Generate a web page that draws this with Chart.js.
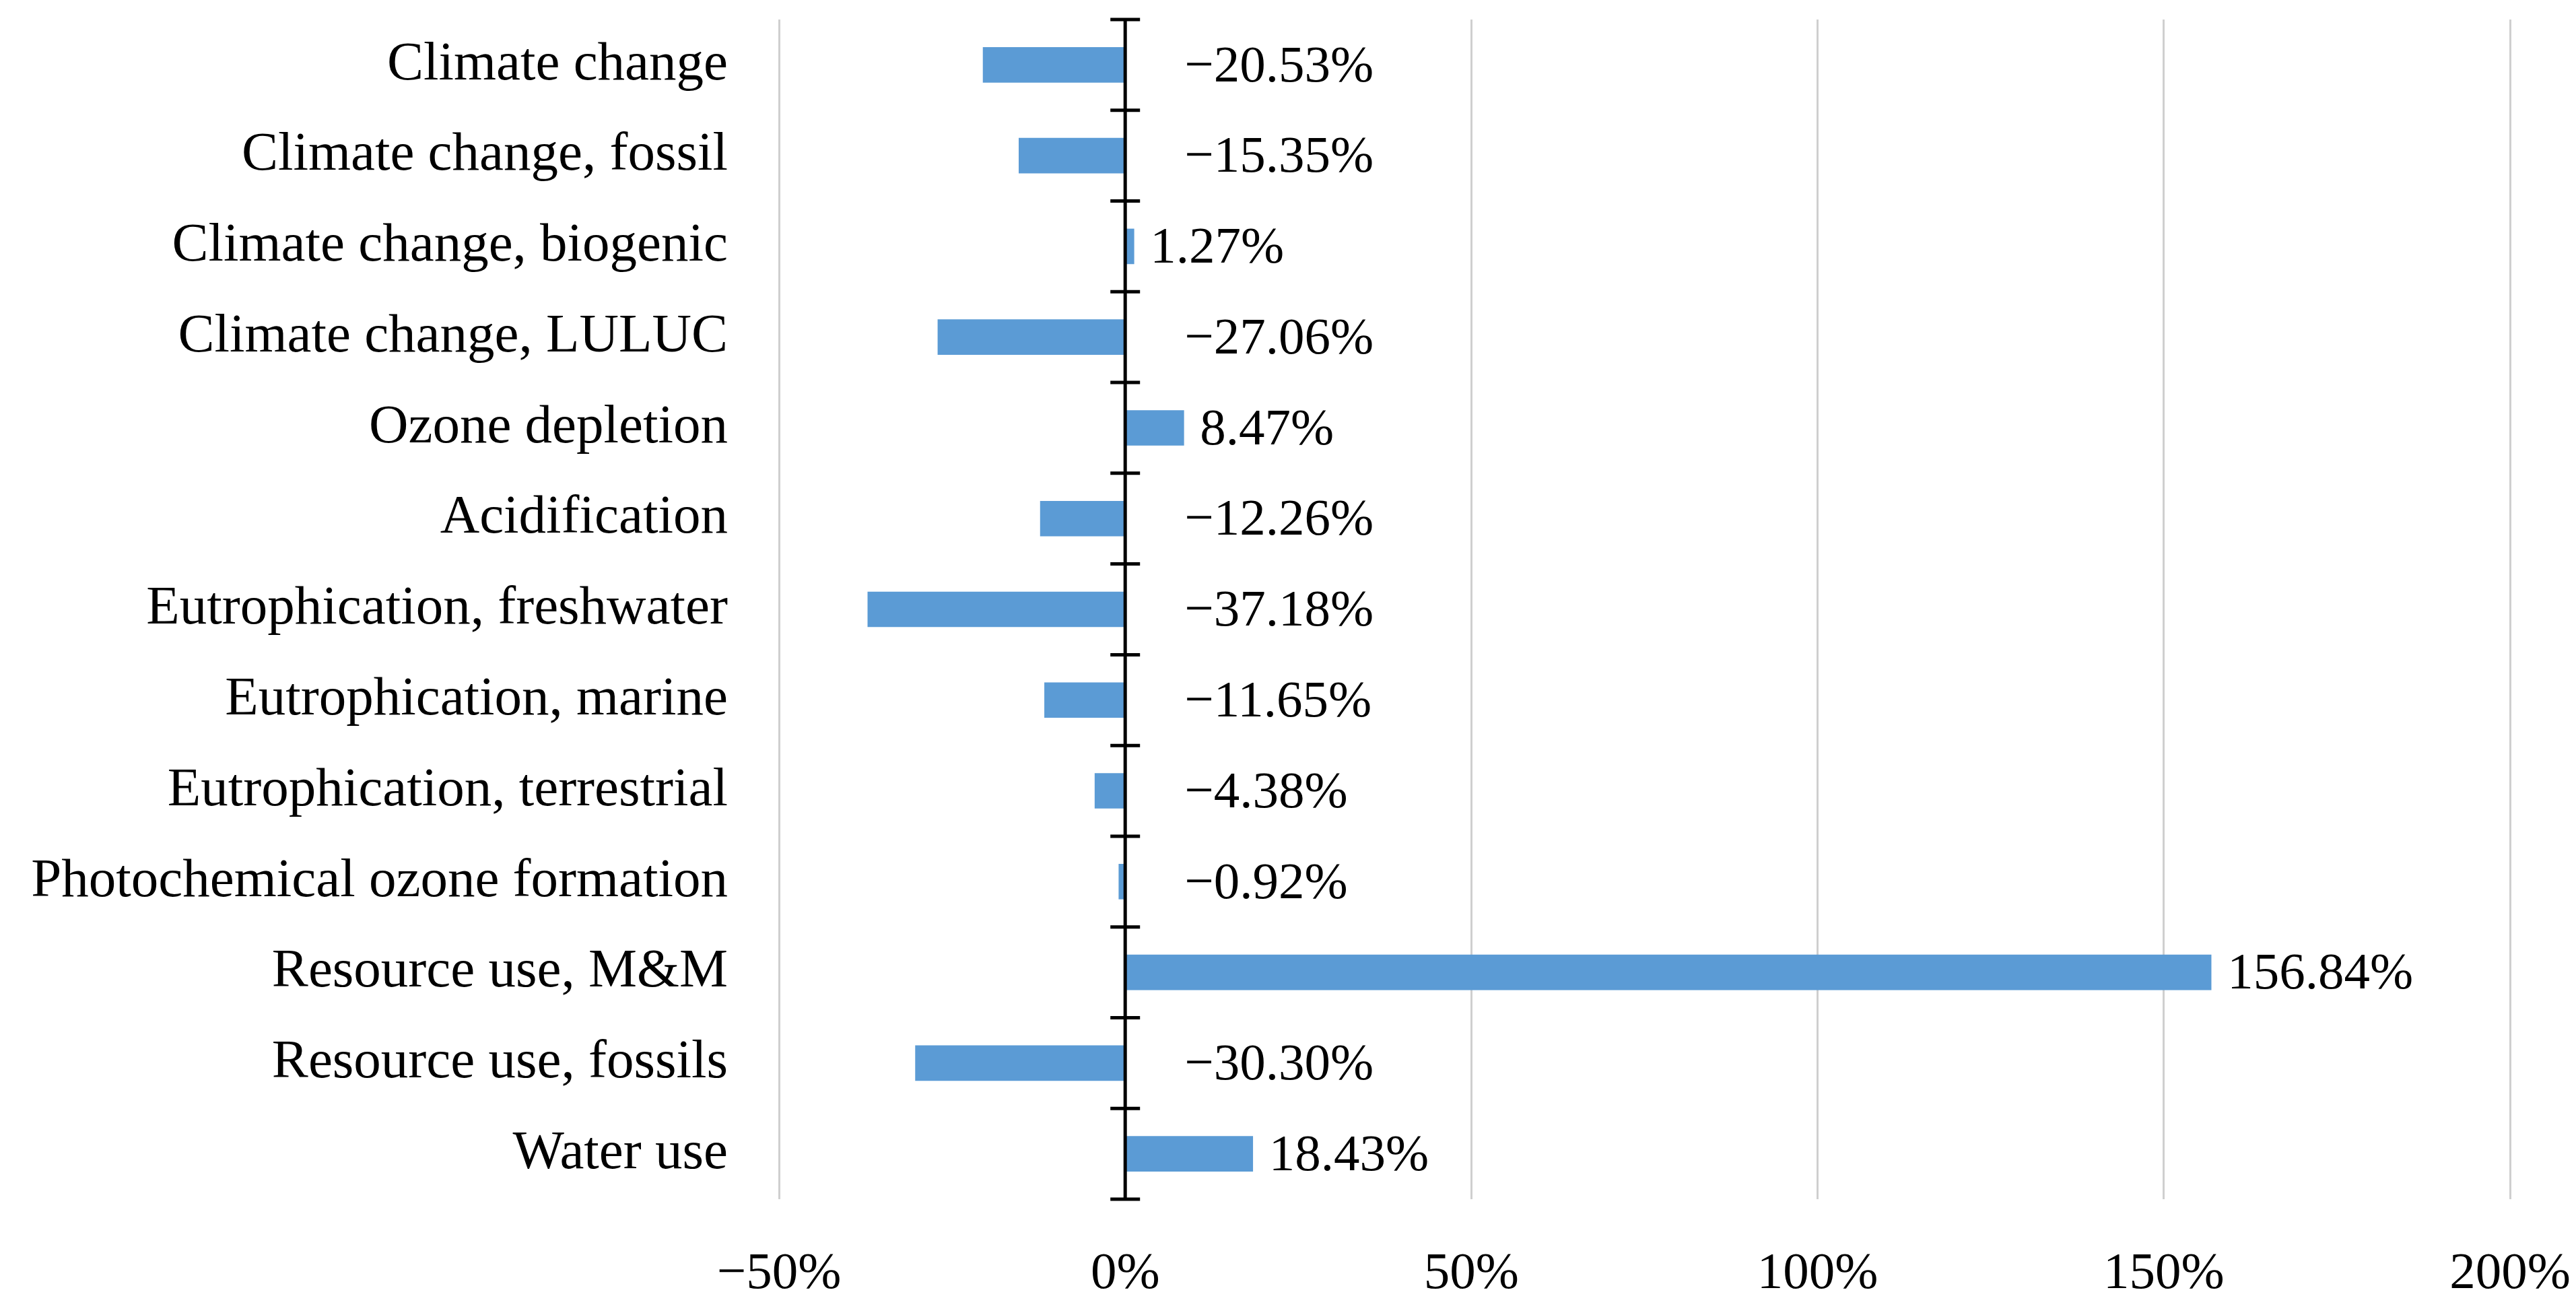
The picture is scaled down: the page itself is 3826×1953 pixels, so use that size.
<!DOCTYPE html>
<html>
<head>
<meta charset="utf-8">
<script src="https://cdn.jsdelivr.net/npm/chart.js@4"></script>
<style>
  body { margin: 0; background: #fff; }
  #wrap { width: 3826px; height: 1953px; }
</style>
</head>
<body>
<div id="wrap"><canvas id="myChart" width="3826" height="1953"></canvas></div>
<script>
const categorias = ["Climate change", "Climate change, fossil", "Climate change, biogenic",
  "Climate change, LULUC", "Ozone depletion", "Acidification", "Eutrophication, freshwater",
  "Eutrophication, marine", "Eutrophication, terrestrial", "Photochemical ozone formation",
  "Resource use, M&M", "Resource use, fossils", "Water use"];
const valores = [-20.53, -15.35, 1.27, -27.06, 8.47, -12.26, -37.18, -11.65, -4.38, -0.92, 156.84, -30.30, 18.43];
const ticksX = [-50, 0, 50, 100, 150, 200];

const fuente = "'Liberation Serif', serif";
const tam = 77;

function pct(v, dec) {
  var s = Math.abs(v).toFixed(dec) + "%";
  return v < 0 ? "\u2212" + s : s;
}

// eje vertical negro en 0 con marcas entre categorias
const ejeCero = {
  id: 'ejeCero',
  afterDatasetsDraw(chart) {
    const c = chart.ctx;
    const x = chart.scales.x.getPixelForValue(0);
    const y = chart.scales.y;
    const paso = (y.bottom - y.top) / categorias.length;
    c.save();
    c.strokeStyle = "#000";
    c.lineWidth = 5;
    c.beginPath();
    c.moveTo(x, y.top);
    c.lineTo(x, y.bottom);
    for (var i = 0; i <= categorias.length; i++) {
      var yy = y.top + i * paso;
      c.moveTo(x - 22, yy);
      c.lineTo(x + 22, yy);
    }
    c.stroke();
    c.restore();
  }
};

// etiquetas de datos
const etiquetas = {
  id: 'etiquetas',
  afterDatasetsDraw(chart) {
    const c = chart.ctx;
    const x0 = chart.scales.x.getPixelForValue(0);
    const meta = chart.getDatasetMeta(0);
    c.save();
    c.font = tam + "px " + fuente;
    c.fillStyle = "#000";
    c.textAlign = "left";
    c.textBaseline = "middle";
    meta.data.forEach(function (bar, i) {
      var v = valores[i];
      var x = v < 0 ? x0 + 88 : bar.x + 24;
      c.fillText(pct(v, 2), x, bar.y + 4);
    });
    c.restore();
  }
};

const ctx = document.getElementById("myChart").getContext("2d");
const myChart = new Chart(ctx, {
  type: "bar",
  data: {
    labels: categorias,
    datasets: [{
      data: valores,
      backgroundColor: "#5B9BD5",
      barThickness: 52,
      borderWidth: 0
    }]
  },
  options: {
    indexAxis: "y",
    responsive: false,
    animation: false,
    devicePixelRatio: 1,
    layout: { padding: { top: 29, right: 98, bottom: 0, left: 0 } },
    plugins: { legend: { display: false }, tooltip: { enabled: false } },
    scales: {
      x: {
        min: -50,
        max: 200,
        afterBuildTicks: function (s) { s.ticks = ticksX.map(function (v) { return { value: v }; }); },
        afterFit: function (s) { s.height = 172; s.paddingLeft = 0; s.paddingRight = 0; },
        border: { display: false },
        grid: {
          color: function (g) { return g.tick && g.tick.value === 0 ? "rgba(0,0,0,0)" : "#cfcfcf"; },
          lineWidth: 3,
          borderDash: [10, 4],
          drawTicks: false
        },
        ticks: {
          padding: 66,
          color: "#000",
          font: { family: fuente, size: tam }
          ,
          callback: function (v) { return pct(v, 0); }
        }
      },
      y: {
        afterFit: function (s) { s.width = 1157; s.paddingTop = 0; s.paddingBottom = 0; },
        border: { display: false },
        grid: { display: false, drawTicks: false },
        ticks: {
          padding: 76,
          color: "#000",
          font: { family: fuente, size: 81 }
        }
      }
    }
  },
  plugins: [ejeCero, etiquetas]
});
</script>
</body>
</html>
